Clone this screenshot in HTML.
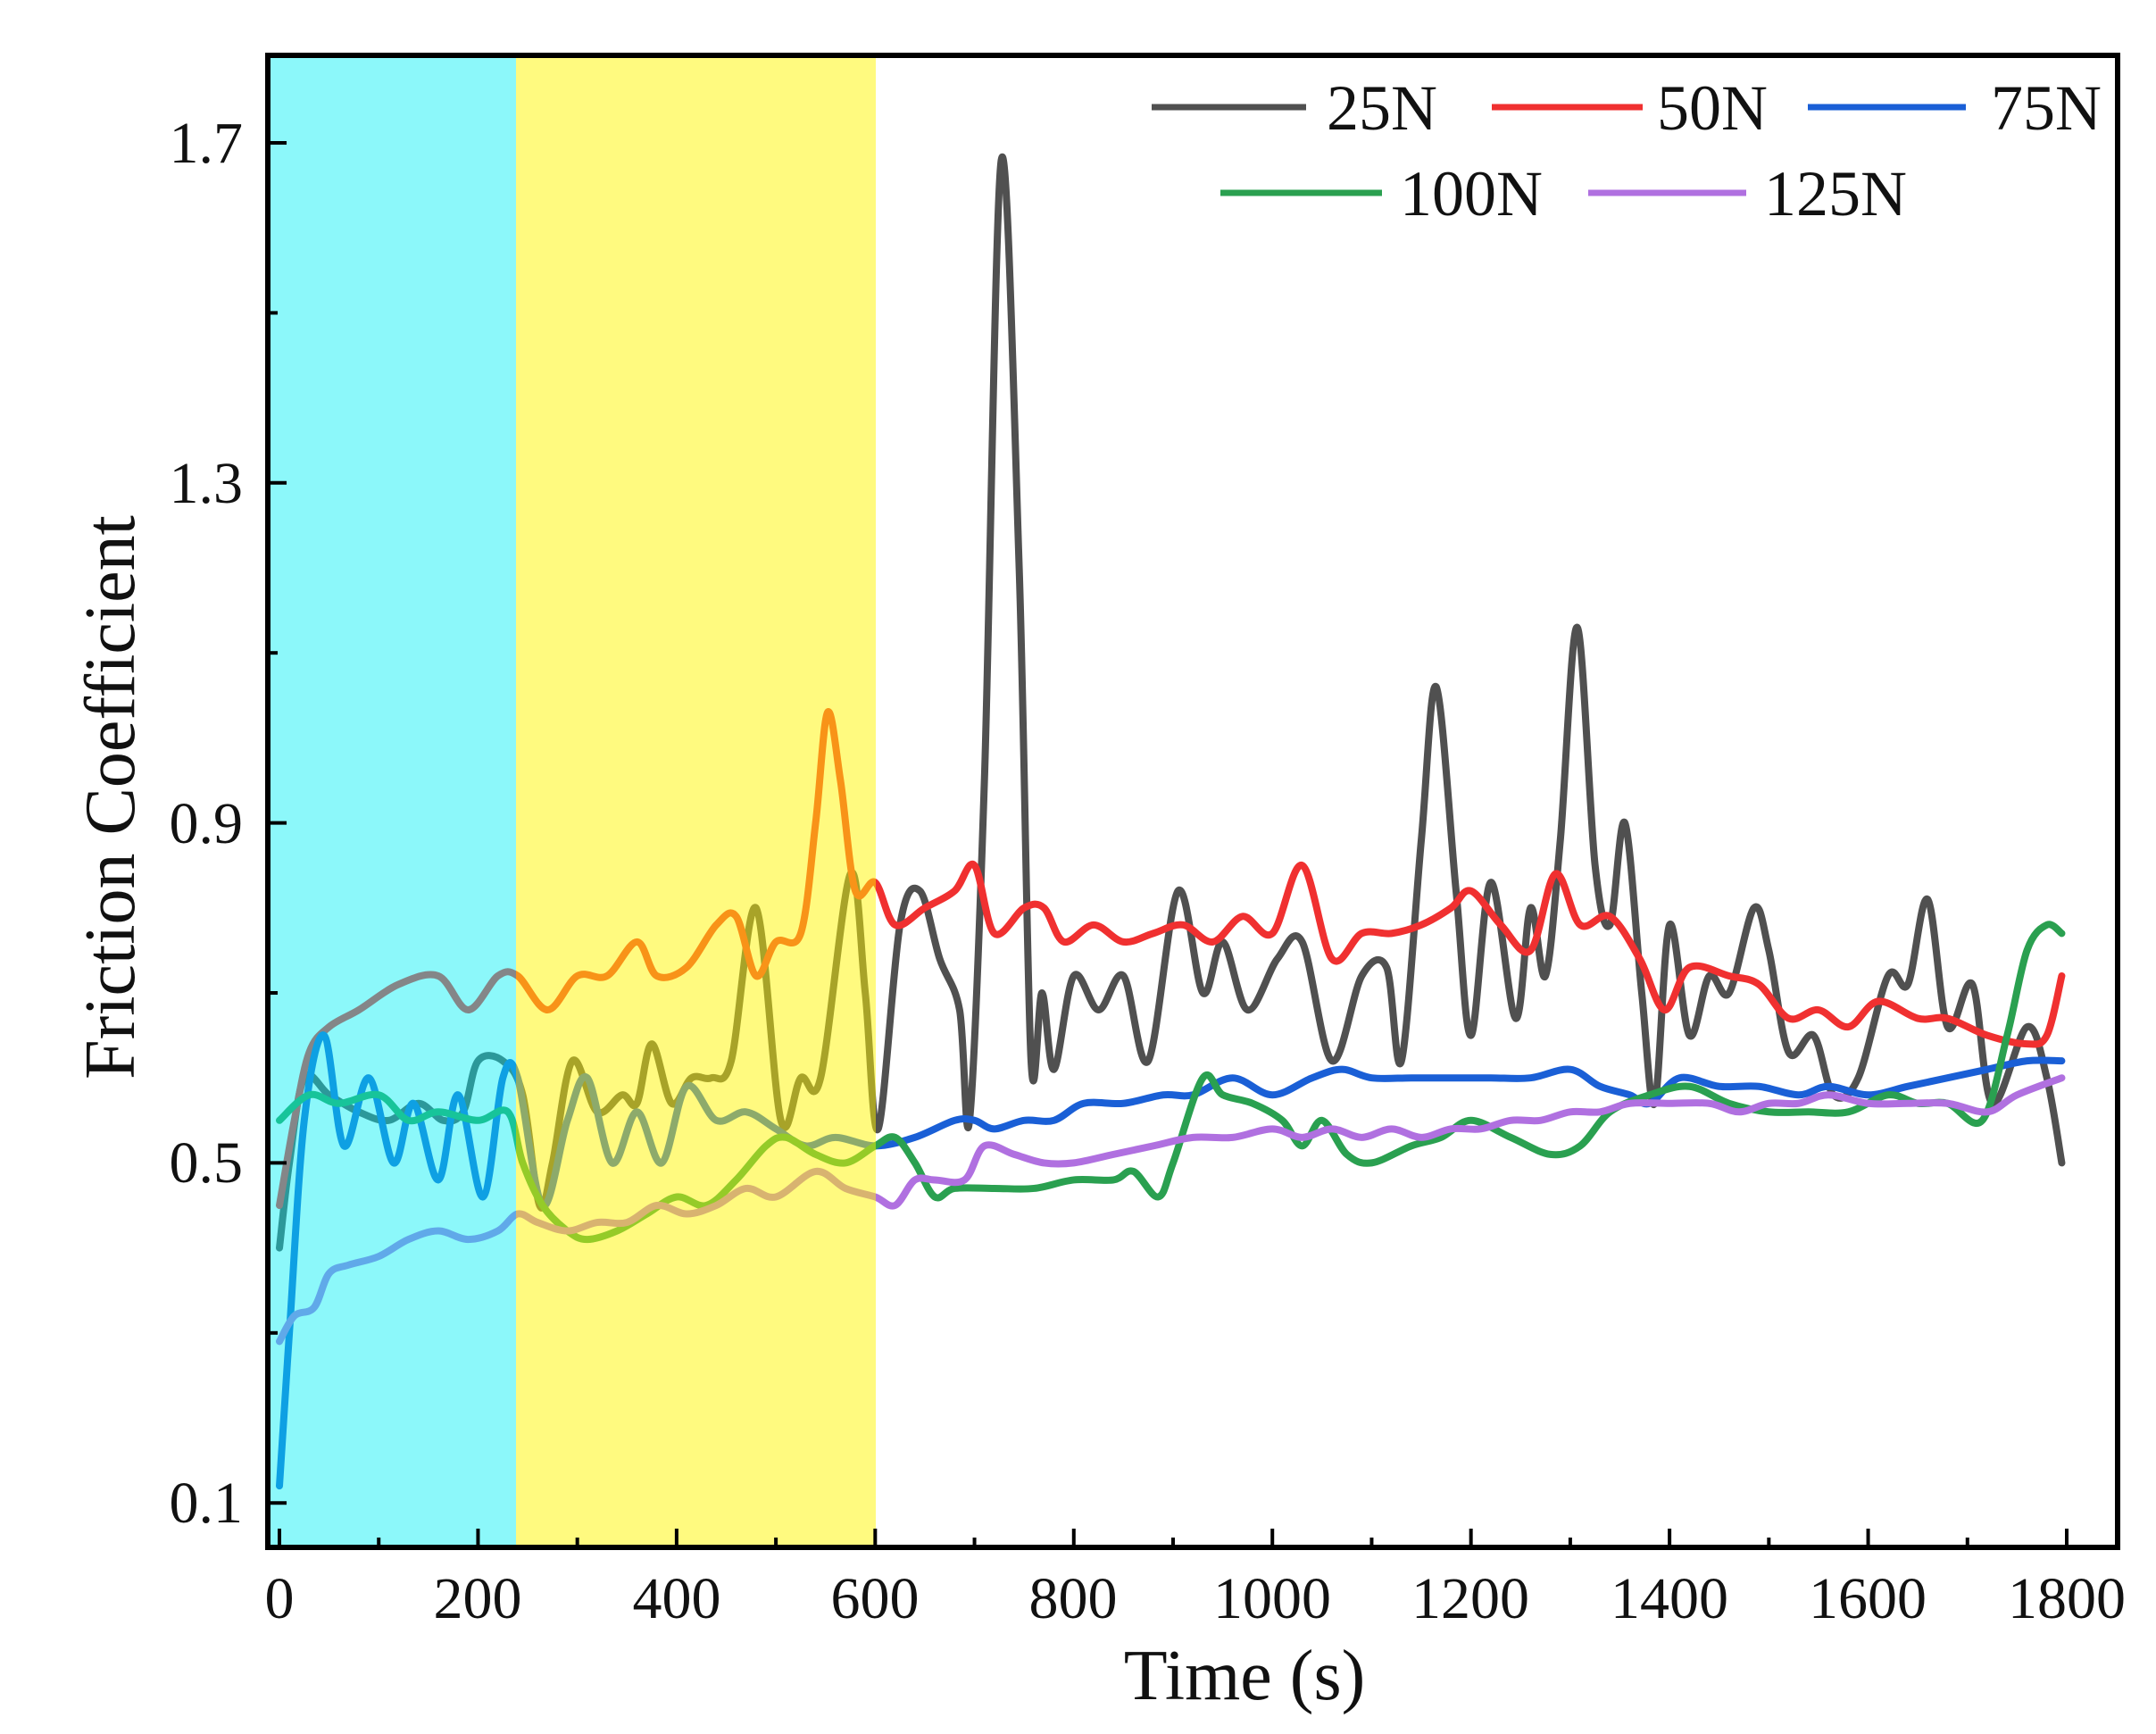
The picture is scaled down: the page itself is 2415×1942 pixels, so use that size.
<!DOCTYPE html>
<html><head><meta charset="utf-8"><style>
html,body{margin:0;padding:0;background:#fff;}
svg{display:block;}
text{font-family:"Liberation Serif",serif;fill:#111;}
</style></head><body>
<svg id="s" width="2415" height="1942" viewBox="0 0 2415 1942" xmlns="http://www.w3.org/2000/svg">
<rect width="2415" height="1942" fill="#fff"/>
<g id="lines" fill="none" stroke-width="8" stroke-linejoin="round" stroke-linecap="round"></g>
<rect x="303" y="64" width="275" height="1667" fill="rgb(0,240,245)" opacity="0.45"/>
<rect x="578" y="64" width="403" height="1667" fill="rgb(255,245,0)" opacity="0.5"/>
<g id="ticks" stroke="#000" stroke-width="4"></g>
<rect x="300" y="62" width="2072" height="1671" fill="none" stroke="#000" stroke-width="6"/>
<g font-size="66" text-anchor="end">
<text x="272" y="182">1.7</text>
<text x="272" y="563">1.3</text>
<text x="272" y="944">0.9</text>
<text x="272" y="1324">0.5</text>
<text x="272" y="1705">0.1</text>
</g>
<g font-size="66" text-anchor="middle">
<text x="313" y="1812">0</text><text x="535" y="1812">200</text><text x="758" y="1812">400</text>
<text x="980" y="1812">600</text><text x="1202" y="1812">800</text><text x="1425" y="1812">1000</text>
<text x="1647" y="1812">1200</text><text x="1870" y="1812">1400</text><text x="2092" y="1812">1600</text>
<text x="2315" y="1812">1800</text>
</g>
<text x="1394" y="1903" font-size="80" text-anchor="middle">Time (s)</text>
<text transform="translate(150,893) rotate(-90)" font-size="80" text-anchor="middle">Friction Coefficient</text>
<g stroke-width="7">
<line x1="1290" y1="120" x2="1463" y2="120" stroke="#505050"/>
<line x1="1671" y1="120" x2="1840" y2="120" stroke="#f03030"/>
<line x1="2025" y1="120" x2="2202" y2="120" stroke="#1a5fd6"/>
<line x1="1367" y1="216" x2="1548" y2="216" stroke="#2aa050"/>
<line x1="1779" y1="216" x2="1956" y2="216" stroke="#b070e0"/>
</g>
<g font-size="72">
<text x="1486" y="145">25N</text><text x="1856" y="145">50N</text><text x="2230" y="145">75N</text>
<text x="1568" y="241">100N</text><text x="1976" y="241">125N</text>
</g>
</svg>
<script>
const X=t=>313+t*2002/1800, Y=v=>160+(1.7-v)*952;
const S={
"#505050":[[0,0.40],[10,0.5],[25,0.6],[50,0.58],[80,0.56],[110,0.55],[140,0.57],[165,0.55],[185,0.56],[200,0.62],[225,0.62],[245,0.58],[262,0.45],[275,0.5],[295,0.62],[320,0.56],[345,0.58],[360,0.57],[375,0.64],[395,0.57],[415,0.6],[435,0.6],[455,0.62],[480,0.80],[505,0.55],[525,0.6],[545,0.6],[575,0.84],[590,0.7],[603,0.54],[625,0.78],[645,0.82],[665,0.74],[685,0.68],[695,0.55],[710,0.95],[727,1.68],[745,1.2],[757,0.62],[768,0.7],[780,0.61],[800,0.72],[825,0.68],[850,0.72],[875,0.62],[905,0.82],[930,0.7],[950,0.76],[975,0.68],[1005,0.74],[1030,0.76],[1060,0.62],[1090,0.72],[1115,0.73],[1130,0.62],[1150,0.88],[1165,1.06],[1185,0.82],[1200,0.65],[1220,0.83],[1245,0.67],[1260,0.80],[1275,0.72],[1290,0.88],[1307,1.13],[1325,0.85],[1340,0.78],[1355,0.9],[1372,0.7],[1385,0.57],[1400,0.78],[1420,0.65],[1440,0.72],[1460,0.7],[1485,0.8],[1500,0.75],[1520,0.63],[1545,0.65],[1565,0.58],[1590,0.6],[1620,0.72],[1640,0.71],[1660,0.81],[1680,0.66],[1705,0.71],[1725,0.57],[1760,0.66],[1780,0.6],[1795,0.5]],
"#f03030":[[0,0.45],[15,0.55],[30,0.63],[50,0.66],[80,0.68],[120,0.71],[160,0.72],[190,0.68],[220,0.72],[240,0.72],[270,0.68],[300,0.72],[330,0.72],[360,0.76],[380,0.72],[410,0.73],[440,0.78],[460,0.79],[480,0.72],[500,0.76],[525,0.77],[540,0.9],[552,1.03],[565,0.95],[580,0.82],[600,0.83],[620,0.78],[650,0.8],[680,0.82],[700,0.85],[720,0.77],[750,0.8],[770,0.8],[790,0.76],[820,0.78],[850,0.76],[880,0.77],[910,0.78],[940,0.76],[970,0.79],[1000,0.77],[1030,0.85],[1060,0.74],[1090,0.77],[1120,0.77],[1150,0.78],[1180,0.8],[1200,0.82],[1230,0.78],[1260,0.75],[1285,0.84],[1310,0.78],[1340,0.79],[1370,0.74],[1395,0.68],[1420,0.73],[1460,0.72],[1490,0.71],[1520,0.67],[1550,0.68],[1580,0.66],[1610,0.69],[1650,0.67],[1680,0.67],[1720,0.65],[1760,0.64],[1780,0.65],[1795,0.72]],
"#1a5fd6":[[0,0.12],[10,0.3],[25,0.55],[45,0.65],[65,0.52],[90,0.6],[115,0.5],[135,0.57],[160,0.48],[180,0.58],[205,0.46],[225,0.6],[240,0.6],[265,0.45],[290,0.55],[310,0.6],[335,0.5],[360,0.56],[385,0.5],[410,0.59],[440,0.55],[470,0.56],[500,0.54],[530,0.52],[560,0.53],[600,0.52],[640,0.53],[680,0.55],[700,0.55],[720,0.54],[750,0.55],[780,0.55],[810,0.57],[850,0.57],[890,0.58],[920,0.58],[960,0.6],[1000,0.58],[1040,0.6],[1070,0.61],[1100,0.6],[1140,0.6],[1180,0.6],[1220,0.6],[1260,0.6],[1300,0.61],[1330,0.59],[1360,0.58],[1380,0.57],[1410,0.6],[1450,0.59],[1490,0.59],[1530,0.58],[1560,0.59],[1600,0.58],[1640,0.59],[1680,0.6],[1720,0.61],[1760,0.62],[1795,0.62]],
"#2aa050":[[0,0.55],[30,0.58],[60,0.57],[100,0.58],[130,0.55],[160,0.56],[200,0.55],[230,0.56],[245,0.5],[265,0.45],[290,0.42],[310,0.41],[340,0.42],[370,0.44],[400,0.46],[430,0.45],[460,0.48],[490,0.52],[510,0.53],[540,0.51],[570,0.5],[600,0.52],[620,0.53],[640,0.5],[660,0.46],[680,0.47],[720,0.47],[760,0.47],[800,0.48],[840,0.48],[860,0.49],[885,0.46],[900,0.5],[930,0.6],[950,0.58],[980,0.57],[1010,0.55],[1030,0.52],[1050,0.55],[1075,0.51],[1100,0.5],[1140,0.52],[1170,0.53],[1200,0.55],[1240,0.53],[1280,0.51],[1310,0.52],[1340,0.56],[1380,0.58],[1420,0.59],[1460,0.57],[1500,0.56],[1540,0.56],[1580,0.56],[1620,0.58],[1650,0.57],[1680,0.57],[1715,0.55],[1740,0.65],[1760,0.75],[1780,0.78],[1795,0.77]],
"#b070e0":[[0,0.29],[15,0.32],[35,0.33],[50,0.37],[70,0.38],[100,0.39],[130,0.41],[160,0.42],[190,0.41],[220,0.42],[240,0.44],[260,0.43],[290,0.42],[320,0.43],[350,0.43],[380,0.45],[410,0.44],[440,0.45],[470,0.47],[500,0.46],[540,0.49],[570,0.47],[600,0.46],[620,0.45],[640,0.48],[660,0.48],[690,0.48],[710,0.52],[740,0.51],[770,0.5],[800,0.5],[840,0.51],[880,0.52],[920,0.53],[960,0.53],[1000,0.54],[1030,0.53],[1060,0.54],[1090,0.53],[1120,0.54],[1150,0.53],[1180,0.54],[1210,0.54],[1240,0.55],[1270,0.55],[1300,0.56],[1330,0.56],[1360,0.57],[1400,0.57],[1440,0.57],[1470,0.56],[1500,0.57],[1530,0.57],[1560,0.58],[1600,0.57],[1640,0.57],[1680,0.57],[1720,0.56],[1750,0.58],[1795,0.6]]};
const NS="http://www.w3.org/2000/svg",g=document.getElementById('lines');
for(const c in S){const p=S[c].map(a=>[X(a[0]),Y(a[1])]);let d="M"+p[0][0]+","+p[0][1];
for(let i=0;i<p.length-1;i++){const p0=p[i-1]||p[i],p1=p[i],p2=p[i+1],p3=p[i+2]||p2;
d+=" C"+(p1[0]+(p2[0]-p0[0])/6)+","+(p1[1]+(p2[1]-p0[1])/6)+" "+(p2[0]-(p3[0]-p1[0])/6)+","+(p2[1]-(p3[1]-p1[1])/6)+" "+p2[0]+","+p2[1];}
const e=document.createElementNS(NS,'path');e.setAttribute('d',d);e.setAttribute('stroke',c);g.appendChild(e);}
const tk=document.getElementById('ticks');
function L(a,b,c,d){const e=document.createElementNS(NS,'line');e.setAttribute('x1',a);e.setAttribute('y1',b);e.setAttribute('x2',c);e.setAttribute('y2',d);tk.appendChild(e);}
for(let t=0;t<=1800;t+=100){const x=X(t);L(x,1733,x,t%200?1722:1712);}
for(let v=0.1;v<=1.71;v+=0.2){const y=Y(v);const maj=Math.abs(((v-0.1)/0.4)-Math.round((v-0.1)/0.4))<0.01;L(300,y,maj?321:311,y);}
</script>
</body></html>
